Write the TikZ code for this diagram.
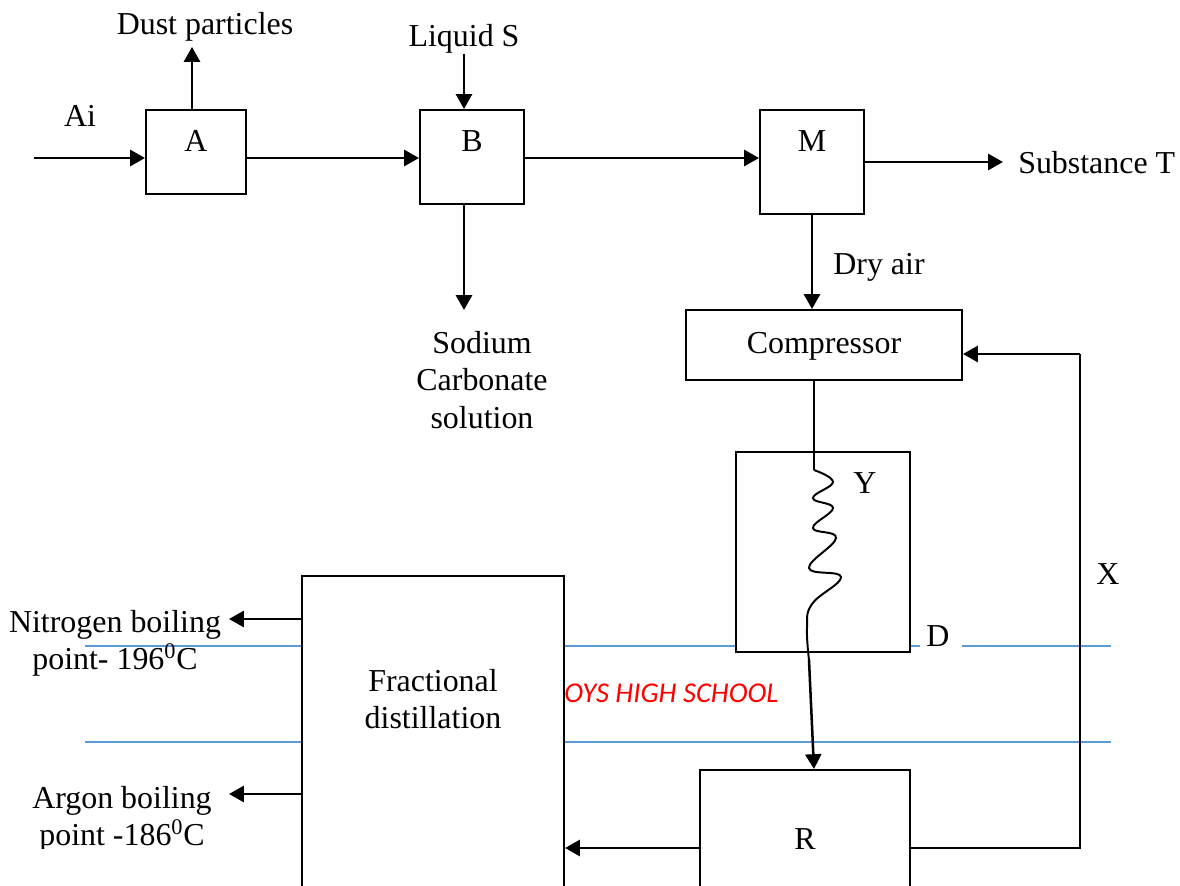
\documentclass[tikz,border=0pt]{standalone}
\usepackage{fontspec}
\setmainfont{Liberation Serif}
\newfontfamily\watermark{Carlito}
\usetikzlibrary{arrows.meta}
\definecolor{ruleblue}{RGB}{91,155,213}
\tikzset{
	pbox/.style={draw=black,fill=white,line width=1.4pt,inner sep=0pt,font=\fontsize{22.7}{26.4}\selectfont},
	txt/.style={inner sep=0pt,align=center,font=\fontsize{22.7}{26.4}\selectfont},
	arr/.style={line width=1.8pt,-{Triangle[length=0.37cm,width=0.4cm]}},
	pipe/.style={line width=1.4pt},
	ruleline/.style={draw=ruleblue,line width=1.5pt}
}
\begin{document}
\begin{tikzpicture}[x=0.025cm,y=-0.025cm]
	\useasboundingbox (0,0) rectangle (1180,886);
	
	% Ruled lines
	\foreach \i in {646,742}{
		\draw[ruleline] (85,\i) -- (1111,\i);
	}
	\node[txt,text=red,anchor=west,font=\watermark\itshape\fontsize{20.4}{24}\selectfont] (school) at (564,693) {OYS HIGH SCHOOL};
	
	% Top row
	\node[pbox,minimum width=2.5cm,text height=1.05cm,text depth=1.05cm] (A) at (196,152) {A};
	\node[pbox,minimum width=2.6cm,text height=1.05cm,text depth=1.3cm] (B) at (472,157) {B};
	\node[pbox,minimum width=2.6cm,text height=1.05cm,text depth=1.55cm] (M) at (812,162) {M};
	\node[pbox,minimum width=6.9cm,text height=1.075cm,text depth=0.675cm] (Comp) at (824,345) {Compressor};
	
	% Lower boxes
	\node[pbox,minimum width=4.35cm,minimum height=5cm] (Ybox) at (823,552) {};
	\node[pbox,minimum width=6.55cm,minimum height=8.6cm] (F) at (433,748) {};
	\node[pbox,minimum width=5.25cm,text height=1.975cm,text depth=1.425cm] (R) at (805,838) {R};
	
	% Labels
	\node[txt] (ai) at (80,116) {Ai};
	\node[txt] (dust) at (205,27) {Dust particles};
	\node[txt] (liquid) at (464,39) {Liquid S};
	\node[txt] (sodium) at (482,380) {Sodium\\Carbonate\\solution};
	\node[txt,anchor=west] (subT) at (1018,163) {Substance T};
	\node[txt] (dry) at (879,267) {Dry air};
	\node[txt] (Y) at (865,483) {Y};
	\node[fill=white,inner sep=0pt,minimum width=1.05cm,minimum height=0.4cm] (Dgap) at (941,642) {};
	\node[txt] (D) at (938,636) {D};
	\node[txt] (X) at (1108,574) {X};
	\node[txt] (Flabel) at (433,699) {Fractional\\distillation};
	\node[txt] (nitrogen) at (115,643) {Nitrogen boiling\\point- 196\textsuperscript{0}C};
	\begin{scope}
		\clip (0,760) rectangle (300,848);
		\node[txt] (argon) at (122,819) {Argon boiling\\point -186\textsuperscript{0}C};
	\end{scope}
	
	% Free ends
	\coordinate (airin) at (34,158);
	\coordinate (dustout) at (192,47);
	\coordinate (sodiumout) at (464,310);
	\coordinate (nout) at (229,619);
	\coordinate (arout) at (229,794);
	\coordinate (bend) at (1080,354);
	\coordinate (coil) at (814,470);
	
	% Top row streams
	\draw[arr] (airin) -- (airin -| A.west);
	\draw[arr] (dustout |- A.north) -- (dustout);
	\draw[arr] ([yshift=-0.15cm]A.east) -- ([yshift=-0.15cm]A.east -| B.west);
	\draw[arr] (sodiumout |- liquid.south) -- (sodiumout |- B.north);
	\draw[arr] (sodiumout |- B.south) -- (sodiumout);
	\draw[arr] ([yshift=-0.025cm]B.east) -- ([yshift=-0.025cm]B.east -| M.west);
	\draw[arr,shorten >=0.375cm] (M.east) -- (M.east -| subT.west);
	\draw[arr] (M.south) -- (M.south |- Comp.north);
	
	% Coil
	\draw[pipe] (coil |- Comp.south) -- (coil);
	\draw[pipe] plot[smooth,tension=0.7] coordinates {(coil) (833,482) (813,498) (833,508) (813,528) (836,538) (809,568) (841,577) (812,604) (807,628) (809,660)};
	\draw[arr] (809,660) -- (coil |- R.north);
	
	% Return and lower streams
	\draw[pipe] ([yshift=-0.25cm]R.east) -| (bend);
	\draw[arr] (bend) -- (bend -| Comp.east);
	\draw[arr] ([yshift=-0.25cm]R.west) -- ([yshift=-0.25cm]R.west -| F.east);
	\draw[arr] (nout -| F.west) -- (nout);
	\draw[arr] (arout -| F.west) -- (arout);
\end{tikzpicture}
\end{document}
